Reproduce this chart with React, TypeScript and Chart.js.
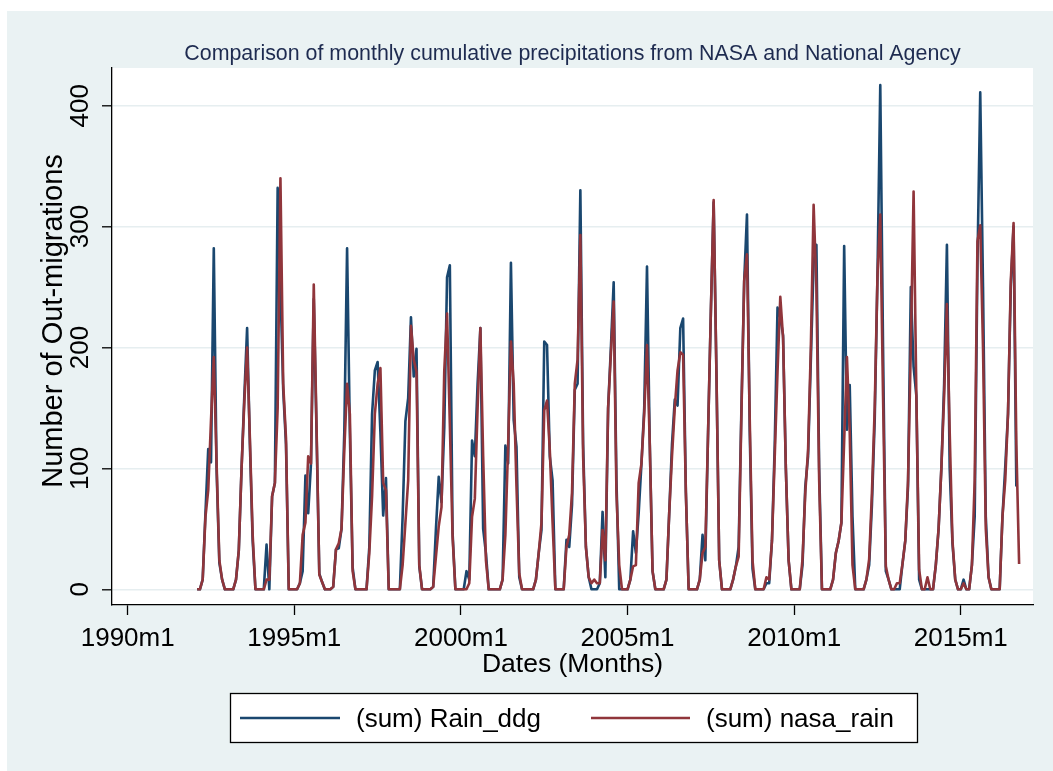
import React, { useEffect, useRef } from "react";
import { Chart, registerables } from "chart.js";

Chart.register(...registerables);

// Monthly series start at 1992m2; month index counts months since 1990m1.
const START_YEAR = 1992;
const START_MONTH = 2;

// (sum) Rain_ddg, one row per year
const rainDdg: number[] = [
  /* 1992 */ 0, 0, 8, 63, 116, 105, 282, 100, 22, 8, 0,
  /* 1993 */ 0, 0, 0, 8, 32, 100, 160, 216, 120, 40, 0, 0,
  /* 1994 */ 0, 0, 37, 0, 77, 88, 332, 250, 165, 120, 0, 0,
  /* 1995 */ 0, 0, 5, 15, 94, 63, 104, 240, 130, 13, 6, 0,
  /* 1996 */ 0, 0, 2, 33, 34, 50, 130, 282, 130, 18, 0, 0,
  /* 1997 */ 0, 0, 0, 35, 145, 181, 188, 130, 61, 92, 0, 0,
  /* 1998 */ 0, 0, 0, 60, 139, 158, 225, 176, 199, 19, 0, 0,
  /* 1999 */ 0, 0, 2, 50, 93, 72, 134, 258, 268, 46, 0, 0,
  /* 2000 */ 0, 0, 15, 8, 123, 110, 170, 216, 50, 30, 0, 0,
  /* 2001 */ 0, 0, 0, 8, 119, 104, 270, 140, 118, 10, 0, 0,
  /* 2002 */ 0, 0, 0, 8, 30, 49, 205, 202, 110, 90, 0, 0,
  /* 2003 */ 0, 0, 41, 35, 70, 165, 170, 330, 120, 35, 10, 0,
  /* 2004 */ 0, 0, 5, 64, 10, 150, 200, 254, 90, 0, 0, 0,
  /* 2005 */ 0, 8, 48, 30, 63, 104, 150, 267, 120, 15, 0, 0,
  /* 2006 */ 0, 0, 8, 63, 120, 157, 152, 216, 224, 80, 0, 0,
  /* 2007 */ 0, 0, 8, 45, 24, 130, 230, 320, 180, 24, 0, 0,
  /* 2008 */ 0, 0, 8, 19, 35, 150, 255, 310, 130, 17, 0, 0,
  /* 2009 */ 0, 0, 5, 5, 40, 120, 233, 225, 210, 100, 24, 0,
  /* 2010 */ 0, 0, 0, 20, 85, 110, 190, 270, 285, 100, 0, 0,
  /* 2011 */ 0, 0, 8, 30, 40, 55, 284, 132, 169, 60, 0, 0,
  /* 2012 */ 0, 0, 8, 20, 70, 140, 260, 417, 200, 15, 8, 0,
  /* 2013 */ 0, 0, 0, 21, 40, 85, 250, 184, 160, 8, 0, 0,
  /* 2014 */ 0, 0, 0, 20, 50, 100, 170, 285, 100, 38, 8, 0,
  /* 2015 */ 0, 8, 0, 0, 20, 60, 270, 411, 250, 60, 10, 0,
  /* 2016 */ 0, 0, 0, 60, 101, 145, 250, 300, 85,
];

// (sum) nasa_rain, one row per year
const nasaRain: number[] = [
  /* 1992 */ 0, 0, 8, 60, 82, 140, 192, 105, 24, 8, 0,
  /* 1993 */ 0, 0, 0, 8, 32, 100, 155, 200, 125, 45, 0, 0,
  /* 1994 */ 0, 0, 8, 8, 77, 88, 150, 340, 170, 125, 0, 0,
  /* 1995 */ 0, 0, 5, 45, 55, 110, 104, 252, 135, 12, 6, 0,
  /* 1996 */ 0, 0, 2, 33, 38, 50, 115, 170, 145, 15, 0, 0,
  /* 1997 */ 0, 0, 0, 30, 77, 145, 170, 183, 88, 82, 0, 0,
  /* 1998 */ 0, 0, 0, 20, 55, 90, 218, 190, 180, 20, 0, 0,
  /* 1999 */ 0, 0, 2, 27, 52, 68, 181, 228, 137, 43, 0, 0,
  /* 2000 */ 0, 0, 0, 5, 60, 75, 150, 216, 110, 24, 0, 0,
  /* 2001 */ 0, 0, 0, 8, 45, 120, 205, 170, 85, 13, 0, 0,
  /* 2002 */ 0, 0, 0, 8, 30, 55, 148, 156, 115, 55, 0, 0,
  /* 2003 */ 0, 0, 35, 45, 80, 170, 190, 293, 110, 35, 10, 5,
  /* 2004 */ 8, 5, 5, 49, 24, 150, 195, 238, 80, 20, 0, 0,
  /* 2005 */ 0, 8, 19, 20, 88, 104, 145, 202, 120, 15, 0, 0,
  /* 2006 */ 0, 0, 8, 63, 110, 150, 181, 196, 194, 80, 0, 0,
  /* 2007 */ 0, 0, 8, 30, 35, 130, 230, 322, 180, 24, 0, 0,
  /* 2008 */ 0, 0, 8, 19, 27, 145, 255, 277, 140, 24, 0, 0,
  /* 2009 */ 0, 0, 10, 8, 40, 110, 180, 242, 208, 100, 24, 0,
  /* 2010 */ 0, 0, 0, 25, 80, 115, 200, 318, 250, 90, 0, 0,
  /* 2011 */ 0, 0, 8, 30, 40, 55, 123, 192, 130, 20, 0, 0,
  /* 2012 */ 0, 0, 8, 25, 80, 150, 260, 310, 160, 19, 8, 0,
  /* 2013 */ 0, 5, 5, 21, 40, 90, 200, 329, 160, 16, 0, 0,
  /* 2014 */ 10, 0, 0, 20, 50, 100, 160, 236, 130, 40, 8, 0,
  /* 2015 */ 0, 5, 0, 0, 20, 90, 288, 301, 200, 50, 10, 0,
  /* 2016 */ 0, 0, 0, 60, 90, 145, 255, 303, 120, 21,
];

// Axis ticks: months since 1990m1 on x, values on y
const xTickMonths = [0, 60, 120, 180, 240, 300];
const yTickValues = [0, 100, 200, 300, 400];

const TITLE = "Comparison of monthly cumulative precipitations from NASA and National Agency";
const X_TITLE = "Dates (Months)";
const Y_TITLE = "Number of Out-migrations";
const SERIES_NAMES = ["(sum) Rain_ddg", "(sum) nasa_rain"];

// Stata s2color palette
const NAVY = "#1A476F";
const MAROON = "#90353B";
const GRAPH_BG = "#EAF2F3";
const GRID = "#E6EEF0";

const W = 1053;
const H = 771;
const PLOT_LEFT = 112;
const PLOT_RIGHT = 1033;
const PLOT_TOP = 68;
const PLOT_BOTTOM = 605;

// scale domain chosen so 1990m1 sits at 127.7px and 0..400 spans 589.3..105.7px
const PX_PER_MONTH = 2.777;
const X0_PX = 127.7;
const X_MIN = (PLOT_LEFT - X0_PX) / PX_PER_MONTH;
const X_MAX = (PLOT_RIGHT - X0_PX) / PX_PER_MONTH;
const PX_PER_UNIT = 1.209;
const Y0_PX = 589.3;
const Y_MIN = -(PLOT_BOTTOM - Y0_PX) / PX_PER_UNIT;
const Y_MAX = (Y0_PX - PLOT_TOP) / PX_PER_UNIT;

const FONT = "'Liberation Sans', Arial, sans-serif";

const monthLabel = (m: number) => `${1990 + Math.floor(m / 12)}m${(m % 12) + 1}`;

const toPoints = (values: number[]) => {
  const first = (START_YEAR - 1990) * 12 + (START_MONTH - 1);
  return values.map((v, i) => ({ x: first + i, y: v }));
};

const stataFrame = {
  id: "stataFrame",
  beforeDraw(chart: any) {
    const { ctx, chartArea } = chart;
    ctx.save();
    ctx.fillStyle = "#ffffff";
    ctx.fillRect(0, 0, W, H);
    ctx.fillStyle = GRAPH_BG;
    ctx.fillRect(7, 11, W - 7, H - 11);
    ctx.fillStyle = "#ffffff";
    ctx.fillRect(chartArea.left, chartArea.top, chartArea.right - chartArea.left, chartArea.bottom - chartArea.top);
    ctx.restore();
  },
  afterDraw(chart: any) {
    const { ctx, chartArea } = chart;
    const xs = chart.scales.x;
    const ys = chart.scales.y;
    const midX = (chartArea.left + chartArea.right) / 2;
    ctx.save();

    // title
    ctx.fillStyle = "#1E2B50";
    ctx.font = `21.4px ${FONT}`;
    ctx.textAlign = "center";
    ctx.textBaseline = "alphabetic";
    ctx.fillText(TITLE, midX, 60);

    // x tick labels
    ctx.fillStyle = "#000";
    ctx.font = `26px ${FONT}`;
    xTickMonths.forEach((m) => {
      ctx.fillText(monthLabel(m), xs.getPixelForValue(m), 646);
    });

    // x title
    ctx.font = `26.5px ${FONT}`;
    ctx.fillText(X_TITLE, midX, 672);

    // y tick labels, rotated like Stata's vertical labels
    ctx.font = `26px ${FONT}`;
    yTickValues.forEach((v) => {
      ctx.save();
      ctx.translate(87.5, ys.getPixelForValue(v));
      ctx.rotate(-Math.PI / 2);
      ctx.fillText(String(v), 0, 0);
      ctx.restore();
    });

    // y title
    ctx.save();
    ctx.font = `29px ${FONT}`;
    ctx.translate(62, 321);
    ctx.rotate(-Math.PI / 2);
    ctx.fillText(Y_TITLE, 0, 0);
    ctx.restore();

    // legend box
    const lx = 230, ly = 693, lw = 687, lh = 49;
    ctx.fillStyle = "#ffffff";
    ctx.fillRect(lx, ly, lw, lh);
    ctx.strokeStyle = "#000";
    ctx.lineWidth = 1.3;
    ctx.strokeRect(lx + 0.5, ly + 0.5, lw, lh);
    const entries = [
      { color: NAVY, x1: 240, x2: 340, tx: 356 },
      { color: MAROON, x1: 591, x2: 690, tx: 706 },
    ];
    entries.forEach((e, i) => {
      ctx.strokeStyle = e.color;
      ctx.lineWidth = 2.6;
      ctx.beginPath();
      ctx.moveTo(e.x1, 718);
      ctx.lineTo(e.x2, 718);
      ctx.stroke();
      ctx.fillStyle = "#000";
      ctx.font = `26px ${FONT}`;
      ctx.textAlign = "left";
      ctx.fillText(SERIES_NAMES[i], e.tx, 727);
    });

    ctx.restore();
  },
};

export default function App() {
  const canvasRef = useRef<HTMLCanvasElement | null>(null);

  useEffect(() => {
    document.body.style.margin = "0";
    const canvas = canvasRef.current;
    if (!canvas) return;
    const chart = new Chart(canvas, {
      type: "line",
      data: {
        datasets: [
          {
            label: SERIES_NAMES[0],
            data: toPoints(rainDdg),
            borderColor: NAVY,
            borderWidth: 2.6,
            pointRadius: 0,
            tension: 0,
            borderJoinStyle: "round",
            order: 2,
          },
          {
            label: SERIES_NAMES[1],
            data: toPoints(nasaRain),
            borderColor: MAROON,
            borderWidth: 2.6,
            pointRadius: 0,
            tension: 0,
            borderJoinStyle: "round",
            order: 1,
          },
        ],
      },
      options: {
        animation: false,
        responsive: false,
        devicePixelRatio: 1,
        layout: { padding: { top: PLOT_TOP, right: W - PLOT_RIGHT, bottom: 0, left: 0 } },
        plugins: {
          legend: { display: false },
          title: { display: false },
          tooltip: { enabled: false },
        },
        scales: {
          x: {
            type: "linear",
            min: X_MIN,
            max: X_MAX,
            afterBuildTicks: (s: any) => {
              s.ticks = xTickMonths.map((v) => ({ value: v }));
            },
            afterFit: (s: any) => {
              s.height = H - PLOT_BOTTOM;
            },
            ticks: { display: false },
            grid: {
              drawOnChartArea: false,
              drawTicks: true,
              tickLength: 10,
              tickColor: "#000",
              tickWidth: 1.3,
            },
            border: { display: true, color: "#000", width: 1.3 },
          },
          y: {
            type: "linear",
            min: Y_MIN,
            max: Y_MAX,
            afterBuildTicks: (s: any) => {
              s.ticks = yTickValues.map((v) => ({ value: v }));
            },
            afterFit: (s: any) => {
              s.width = PLOT_LEFT;
            },
            ticks: { display: false },
            grid: {
              color: GRID,
              lineWidth: 1.6,
              drawTicks: true,
              tickLength: 10,
              tickColor: "#000",
              tickWidth: 1.3,
            },
            border: { display: true, color: "#000", width: 1.3 },
          },
        },
      },
      plugins: [stataFrame],
    });
    return () => chart.destroy();
  }, []);

  return (
    <div style={{ position: "absolute", left: 0, top: 0, width: W, height: H }}>
      <canvas ref={canvasRef} width={W} height={H} style={{ display: "block" }} />
    </div>
  );
}
